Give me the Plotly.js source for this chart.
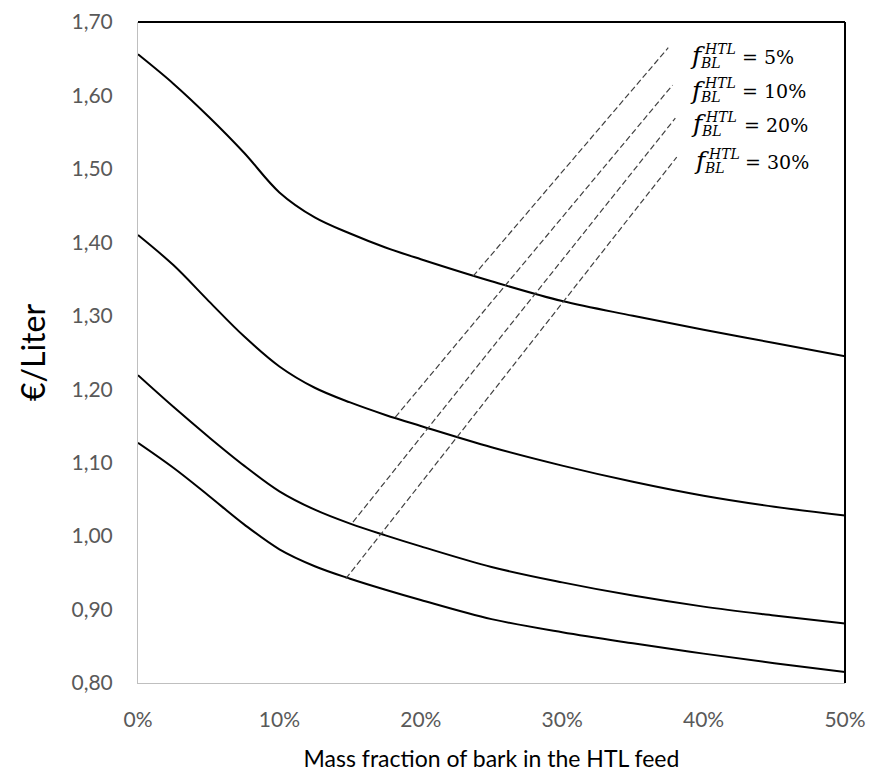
<!DOCTYPE html>
<html>
<head>
<meta charset="utf-8">
<script src="https://cdn.plot.ly/plotly-3.0.1.min.js"></script>
<style>html,body{margin:0;padding:0;background:#fff;}#chart{width:873px;height:773px;}</style>
</head>
<body>
<div id="chart"></div>
<script>
// ---- data ----
const xs = [0, 2.5, 5, 7.5, 10, 12.5, 15, 17.5, 20, 25, 30, 35, 40, 45, 50];
const curve1 = [1.656, 1.616, 1.571, 1.522, 1.468, 1.434, 1.412, 1.393, 1.377, 1.347, 1.320, 1.300, 1.281, 1.263, 1.245];
const curve2 = [1.410, 1.369, 1.320, 1.272, 1.231, 1.202, 1.182, 1.165, 1.150, 1.121, 1.096, 1.074, 1.055, 1.040, 1.028];
const curve3 = [1.219, 1.176, 1.135, 1.096, 1.061, 1.036, 1.017, 1.001, 0.986, 0.958, 0.937, 0.919, 0.904, 0.892, 0.881];
const curve4 = [1.127, 1.093, 1.055, 1.016, 0.982, 0.959, 0.942, 0.927, 0.913, 0.887, 0.869, 0.854, 0.840, 0.827, 0.815];

const isoLabels = ['5%', '10%', '20%', '30%'];
const isoX0 = [23.7, 18.2, 15.2, 14.7];
const isoY0 = [1.354, 1.162, 1.019, 0.942];
const isoX1 = [37.5, 37.8, 38.0, 38.1];
const isoY1 = [1.665, 1.614, 1.569, 1.516];

const xTickVals = [0, 10, 20, 30, 40, 50];
const yTickVals = [0.8, 0.9, 1.0, 1.1, 1.2, 1.3, 1.4, 1.5, 1.6, 1.7];

// ---- layout constants ----
const W = 873, H = 773;
const M = {l: 138, r: 28, t: 22, b: 90};
const PW = W - M.l - M.r, PH = H - M.t - M.b;
const px2x = p => (p - M.l) / PW;
const px2y = p => (M.t + PH - p) / PH;

const traces = [];
[curve1, curve2, curve3, curve4].forEach(c => {
  traces.push({x: xs, y: c, type: 'scatter', mode: 'lines', hoverinfo: 'skip',
    line: {color: '#000000', width: 2, shape: 'spline', smoothing: 1}});
});
isoLabels.forEach((lab, i) => {
  traces.push({x: [isoX0[i], isoX1[i]], y: [isoY0[i], isoY1[i]], type: 'scatter', mode: 'lines', hoverinfo: 'skip',
    line: {color: '#404040', width: 1.2, dash: '6px,3px'}});
});

// label placement (pixels)
const rowY = [57, 91, 125, 162];
const fX = [688, 688, 689, 692];
const eqX = [740, 740, 742, 743];
const serif = 'DejaVu Serif';
const annotations = [];
isoLabels.forEach((lab, i) => {
  annotations.push({xref: 'paper', yref: 'paper', x: px2x(fX[i]), y: px2y(rowY[i] - 1), xanchor: 'left', yanchor: 'middle',
    text: '<i>f</i>', showarrow: false, font: {family: serif, size: 25, color: '#000'}});
  annotations.push({xref: 'paper', yref: 'paper', x: px2x(fX[i] + 14), y: px2y(rowY[i] - 8), xanchor: 'left', yanchor: 'middle',
    text: '<i>HTL</i>', showarrow: false, font: {family: serif, size: 14, color: '#000'}});
  annotations.push({xref: 'paper', yref: 'paper', x: px2x(fX[i] + 10), y: px2y(rowY[i] + 6), xanchor: 'left', yanchor: 'middle',
    text: '<i>BL</i>', showarrow: false, font: {family: serif, size: 14, color: '#000'}});
  annotations.push({xref: 'paper', yref: 'paper', x: px2x(eqX[i]), y: px2y(rowY[i]), xanchor: 'left', yanchor: 'middle',
    text: '= ' + lab, showarrow: false, font: {family: serif, size: 19, color: '#000'}});
});

const tickFont = {family: 'Lato', size: 21, color: '#595959'};
const layout = {
  width: W, height: H,
  margin: M,
  paper_bgcolor: '#ffffff', plot_bgcolor: '#ffffff',
  showlegend: false,
  separators: ',.',
  xaxis: {
    range: [0, 50], tickvals: xTickVals, ticktext: xTickVals.map(v => v + '%'),
    showgrid: false, zeroline: false, showline: true, linecolor: '#bfbfbf', linewidth: 1,
    ticks: '', tickfont: tickFont, ticklabelstandoff: 18,
    title: {text: 'Mass fraction of bark in the HTL feed', font: {family: 'Lato', size: 23, color: '#000'}, standoff: 20}
  },
  yaxis: {
    range: [0.8, 1.7], tickvals: yTickVals, tickformat: '.2f',
    showgrid: false, zeroline: false, showline: true, linecolor: '#bfbfbf', linewidth: 1,
    ticks: '', tickfont: tickFont, ticklabelstandoff: 20,
    title: {text: '€/Liter', font: {family: 'Lato', size: 32, color: '#000'}, standoff: 16}
  },
  shapes: [
    {type: 'line', xref: 'paper', yref: 'paper', x0: 0, x1: 1, y0: 1, y1: 1, line: {color: '#000', width: 2}},
    {type: 'line', xref: 'paper', yref: 'paper', x0: 1, x1: 1, y0: 0, y1: 1, line: {color: '#000', width: 2}}
  ],
  annotations: annotations
};

Plotly.newPlot('chart', traces, layout, {displayModeBar: false, staticPlot: true});
</script>
</body>
</html>
